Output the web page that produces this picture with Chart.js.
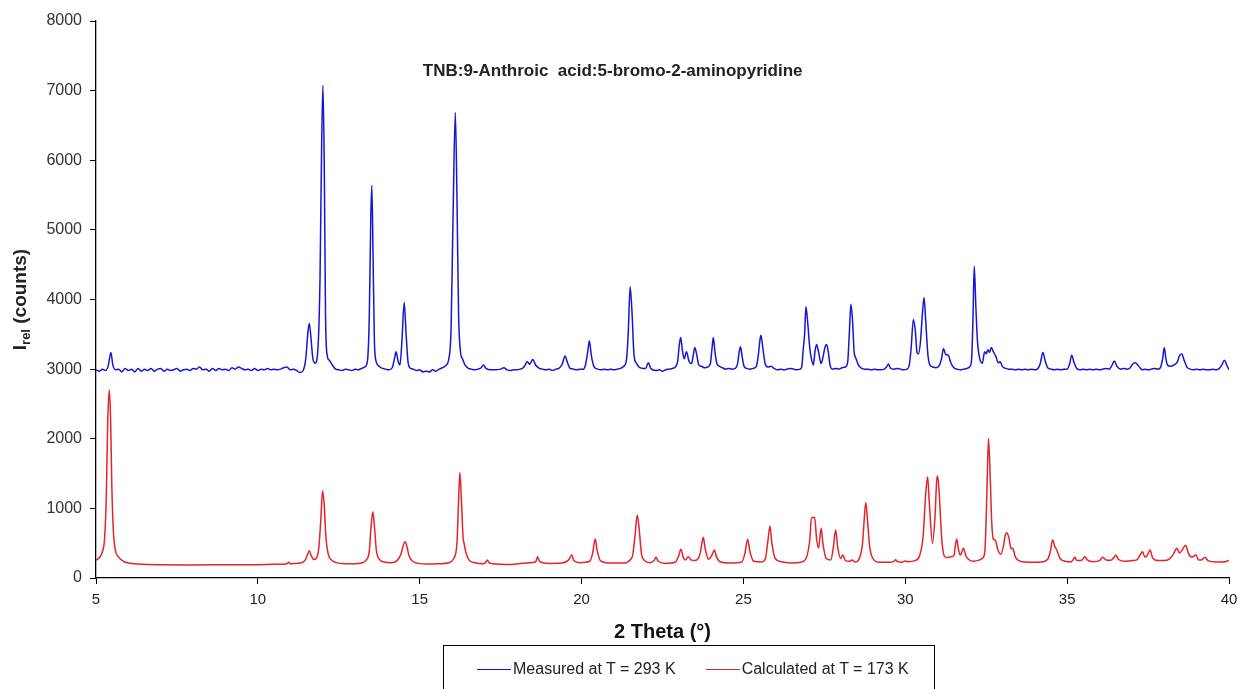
<!DOCTYPE html>
<html>
<head>
<meta charset="utf-8">
<title>TNB:9-Anthroic acid:5-bromo-2-aminopyridine</title>
<script src="https://cdn.jsdelivr.net/npm/chart.js@4.4.1/dist/chart.umd.min.js"></script>
<style>
    html, body { margin: 0; padding: 0; background: #fff; overflow: hidden; }
    #wrap { position: relative; width: 1241px; height: 689px; }
    #legend {
        position: absolute; left: 443px; top: 645px; width: 492px; height: 60px;
        border: 1px solid #000; box-sizing: border-box;
        font: 16px "Liberation Sans", Arial, sans-serif; color: #222;
        display: flex; align-items: flex-start; padding-left: 33px; padding-top: 14px;
        line-height: 18px;
    }
    .item { display: flex; align-items: center; margin-right: 30px; white-space: nowrap; }
    .item i { display: inline-block; width: 34px; height: 0; border-top: 1px solid; margin-right: 2px; }
</style>
</head>
<body>
<div id="wrap">
    <canvas id="xrd" width="1241" height="689"></canvas>
    <div id="legend"></div>
</div>
<script>
const chartTitle = 'TNB:9-Anthroic  acid:5-bromo-2-aminopyridine';
const xTitle = '2 Theta (°)';
const xTicks = [5, 10, 15, 20, 25, 30, 35, 40];
const yTicks = [0, 1000, 2000, 3000, 4000, 5000, 6000, 7000, 8000];

// measured pattern, 293 K  [2theta, counts]
const measured = [
    [5.0,2990],[5.1,2970],[5.2,3000],[5.3,2980],[5.38,3050],[5.46,3240],[5.52,3060],[5.6,2990],[5.7,3000],[5.8,2960],
    [5.9,3010],[6.0,2980],[6.1,3000],[6.2,2960],[6.3,3010],[6.4,2970],[6.5,3000],[6.6,2980],[6.7,3010],[6.8,2970],
    [6.9,3000],[7.0,3010],[7.1,2970],[7.2,3000],[7.3,2980],[7.4,2990],[7.5,3010],[7.6,2970],[7.7,2990],[7.8,3000],
    [7.9,2980],[8.0,3010],[8.1,3000],[8.2,3030],[8.3,2990],[8.4,3000],[8.5,2970],[8.6,3010],[8.7,2980],[8.8,3010],
    [8.9,2990],[9.0,3000],[9.1,2980],[9.2,3020],[9.3,3000],[9.4,3030],[9.5,3010],[9.6,2990],[9.7,3000],[9.8,2980],
    [9.9,3010],[10.0,2980],[10.1,3000],[10.2,2990],[10.3,3010],[10.4,2990],[10.5,3000],[10.6,2990],[10.7,3000],[10.8,3020],
    [10.9,3030],[11.0,2990],[11.1,3000],[11.2,2980],[11.3,2950],[11.4,2980],[11.48,3150],[11.55,3550],[11.59,3656],[11.64,3450],
    [11.7,3150],[11.77,3086],[11.85,3250],[11.92,4300],[11.97,6200],[12.01,7077],[12.05,6000],[12.09,3800],[12.14,3200],[12.2,3130],
    [12.3,3060],[12.4,3000],[12.5,2990],[12.6,2980],[12.7,3000],[12.8,2990],[12.9,2980],[13.0,3000],[13.1,2990],[13.2,3010],
    [13.3,3030],[13.38,3100],[13.44,3700],[13.49,5200],[13.52,5642],[13.56,4600],[13.6,3400],[13.66,3100],[13.75,3040],[13.85,3010],
    [13.95,3000],[14.05,2990],[14.15,3020],[14.22,3150],[14.27,3249],[14.33,3120],[14.39,3058],[14.45,3400],[14.52,3957],[14.58,3500],
    [14.64,3100],[14.72,3010],[14.8,3000],[14.9,2980],[15.0,2990],[15.1,2960],[15.2,2970],[15.3,2960],[15.4,2990],[15.5,2970],
    [15.6,3000],[15.7,3020],[15.8,3050],[15.9,3150],[15.97,3600],[16.03,5200],[16.1,6685],[16.15,5500],[16.2,3800],[16.26,3250],
    [16.32,3150],[16.4,3060],[16.5,3010],[16.6,3000],[16.7,2990],[16.8,3000],[16.9,3020],[16.97,3060],[17.05,3010],[17.2,2990],
    [17.3,2990],[17.5,3000],[17.6,3020],[17.7,2990],[17.8,2980],[17.9,2990],[18.0,2990],[18.1,3000],[18.2,3020],[18.28,3080],
    [18.32,3105],[18.4,3070],[18.49,3140],[18.58,3060],[18.7,3010],[18.8,3000],[18.9,2990],[19.0,3000],[19.1,2980],[19.2,3000],
    [19.3,3010],[19.4,3070],[19.49,3187],[19.56,3100],[19.65,3010],[19.75,3000],[19.85,2990],[19.95,3000],[20.05,3000],[20.12,3060],
    [20.19,3250],[20.24,3407],[20.3,3200],[20.38,3040],[20.5,3000],[20.6,2990],[20.7,3000],[20.8,2990],[20.9,3000],[21.0,2990],
    [21.1,3000],[21.2,3010],[21.3,3040],[21.38,3110],[21.44,3500],[21.5,4182],[21.56,3800],[21.62,3200],[21.7,3080],[21.8,3020],
    [21.9,3010],[21.98,3010],[22.06,3091],[22.14,3010],[22.3,2980],[22.4,2990],[22.5,2970],[22.6,2990],[22.7,3000],[22.8,3010],
    [22.9,3030],[22.97,3120],[23.02,3350],[23.06,3455],[23.12,3250],[23.17,3150],[23.24,3249],[23.32,3110],[23.4,3080],[23.45,3200],
    [23.5,3312],[23.56,3200],[23.62,3060],[23.7,3040],[23.8,3020],[23.9,3030],[23.98,3080],[24.03,3300],[24.07,3455],[24.12,3250],
    [24.18,3080],[24.26,3040],[24.35,3020],[24.45,3000],[24.55,3010],[24.65,3000],[24.75,3010],[24.82,3080],[24.87,3250],[24.91,3321],
    [24.96,3180],[25.02,3040],[25.1,3010],[25.2,3000],[25.3,3010],[25.4,3040],[25.46,3200],[25.51,3420],[25.54,3488],[25.6,3300],
    [25.67,3080],[25.75,3030],[25.85,3040],[25.95,3010],[26.05,2990],[26.15,3000],[26.25,2990],[26.35,3000],[26.45,3010],[26.55,3000],
    [26.65,2990],[26.75,3000],[26.8,3030],[26.85,3300],[26.89,3500],[26.93,3895],[26.98,3700],[27.05,3300],[27.1,3150],[27.16,3058],
    [27.21,3250],[27.26,3355],[27.32,3250],[27.4,3080],[27.47,3200],[27.52,3320],[27.57,3355],[27.62,3250],[27.68,3050],[27.75,3000],
    [27.85,3010],[27.95,3000],[28.05,3020],[28.15,3030],[28.22,3100],[28.27,3500],[28.32,3933],[28.37,3700],[28.42,3250],[28.48,3150],
    [28.55,3060],[28.65,3010],[28.75,3000],[28.85,3000],[28.95,2990],[29.05,3000],[29.15,2990],[29.25,2990],[29.35,3000],[29.42,3030],
    [29.48,3072],[29.55,3010],[29.65,3000],[29.75,3010],[29.85,3000],[29.95,2990],[30.05,3000],[30.12,3050],[30.18,3300],[30.25,3714],
    [30.31,3550],[30.36,3250],[30.41,3216],[30.47,3400],[30.53,3800],[30.58,4029],[30.63,3700],[30.7,3200],[30.76,3060],[30.85,3030],
    [30.95,3020],[31.05,3050],[31.12,3150],[31.18,3297],[31.25,3210],[31.33,3201],[31.4,3100],[31.5,3020],[31.6,3000],[31.7,2990],
    [31.8,3000],[31.9,3010],[32.0,3040],[32.05,3150],[32.09,3700],[32.13,4479],[32.18,3900],[32.23,3400],[32.3,3150],[32.38,3086],
    [32.45,3250],[32.5,3220],[32.55,3280],[32.6,3240],[32.66,3310],[32.72,3250],[32.8,3180],[32.87,3090],[32.93,3105],[33.0,3040],
    [33.1,3010],[33.2,3000],[33.3,3000],[33.4,2990],[33.5,3000],[33.6,2990],[33.7,3000],[33.8,2990],[33.9,3000],[34.0,2990],
    [34.1,3010],[34.17,3080],[34.25,3240],[34.32,3120],[34.4,3020],[34.5,3000],[34.6,2990],[34.7,3000],[34.8,2990],[34.9,3000],
    [35.0,3000],[35.08,3080],[35.14,3201],[35.21,3100],[35.3,3010],[35.4,2990],[35.5,3000],[35.6,2990],[35.7,3000],[35.8,2990],
    [35.9,3000],[36.0,2990],[36.1,3000],[36.2,3010],[36.3,3000],[36.38,3050],[36.46,3115],[36.54,3040],[36.65,3000],[36.75,3010],
    [36.85,3000],[36.95,3020],[37.02,3070],[37.1,3091],[37.18,3060],[37.25,3020],[37.32,2990],[37.4,3000],[37.5,2990],[37.6,3000],
    [37.7,3010],[37.8,3000],[37.88,3020],[37.95,3150],[38.0,3312],[38.05,3150],[38.1,3060],[38.2,3040],[38.3,3060],[38.4,3100],
    [38.47,3190],[38.54,3216],[38.62,3120],[38.7,3030],[38.8,3000],[38.9,2990],[39.0,3000],[39.1,2990],[39.2,3000],[39.3,2990],
    [39.4,2990],[39.5,3000],[39.6,2990],[39.7,3010],[39.78,3060],[39.86,3129],[39.93,3060],[40.0,2990]
];

// calculated pattern, 173 K  [2theta, counts]
const calculated = [
    [5.0,255],[5.1,290],[5.2,380],[5.27,600],[5.32,1200],[5.36,2200],[5.41,2699],[5.45,2300],[5.49,1300],[5.54,650],
    [5.6,400],[5.7,300],[5.85,240],[6.0,215],[6.3,200],[7.0,190],[8.0,188],[9.0,190],[10.0,192],[10.5,196],
    [10.9,205],[10.95,225],[11.0,205],[11.3,215],[11.45,250],[11.53,330],[11.59,393],[11.65,320],[11.73,265],[11.8,280],
    [11.88,420],[11.94,800],[12.0,1254],[12.05,1050],[12.1,600],[12.17,350],[12.27,260],[12.4,225],[12.7,205],[13.0,205],
    [13.2,215],[13.35,260],[13.44,380],[13.5,750],[13.55,952],[13.6,750],[13.66,400],[13.75,270],[13.9,230],[14.1,220],
    [14.3,250],[14.42,340],[14.5,480],[14.55,522],[14.6,460],[14.67,320],[14.78,240],[14.95,210],[15.3,200],[15.6,205],
    [15.9,220],[16.05,280],[16.15,500],[16.2,1100],[16.24,1517],[16.29,1100],[16.34,580],[16.37,502],[16.42,380],[16.52,260],
    [16.7,220],[16.95,205],[17.03,220],[17.09,258],[17.15,215],[17.4,200],[17.8,195],[18.0,200],[18.1,210],[18.55,225],
    [18.6,250],[18.64,306],[18.7,240],[19.0,210],[19.4,215],[19.6,260],[19.7,330],[19.76,250],[19.95,220],[20.25,240],
    [20.34,350],[20.42,560],[20.48,400],[20.58,250],[20.9,215],[21.3,215],[21.5,260],[21.58,330],[21.65,600],[21.72,904],
    [21.78,700],[21.85,350],[21.95,250],[22.1,220],[22.24,250],[22.3,297],[22.37,240],[22.6,210],[22.9,230],[23.0,320],
    [23.07,412],[23.14,300],[23.2,260],[23.3,306],[23.38,260],[23.5,250],[23.65,330],[23.72,500],[23.76,584],[23.82,420],
    [23.92,270],[24.02,320],[24.1,402],[24.17,300],[24.3,230],[24.6,215],[24.95,230],[25.05,360],[25.13,555],[25.2,380],
    [25.32,240],[25.55,230],[25.68,280],[25.76,550],[25.82,746],[25.88,500],[25.98,280],[26.2,230],[26.5,215],[26.8,230],
    [26.95,300],[27.05,550],[27.1,860],[27.2,871],[27.26,560],[27.32,430],[27.4,713],[27.46,480],[27.56,280],[27.7,260],
    [27.78,450],[27.85,689],[27.91,450],[28.0,280],[28.07,330],[28.15,250],[28.28,240],[28.36,260],[28.45,230],[28.58,280],
    [28.68,500],[28.74,900],[28.78,1081],[28.83,850],[28.9,450],[29.0,280],[29.2,225],[29.5,225],[29.65,240],[29.7,262],
    [29.76,235],[29.9,228],[30.0,245],[30.07,235],[30.3,250],[30.45,330],[30.55,600],[30.63,1200],[30.69,1455],[30.74,1100],
    [30.84,498],[30.92,900],[30.97,1400],[31.0,1464],[31.05,1200],[31.12,600],[31.2,320],[31.3,290],[31.36,300],[31.5,320],
    [31.55,480],[31.59,555],[31.64,420],[31.7,330],[31.8,426],[31.87,320],[31.95,270],[32.1,240],[32.3,260],[32.4,290],
    [32.46,400],[32.52,1200],[32.57,2005],[32.62,1500],[32.67,800],[32.72,560],[32.78,545],[32.85,420],[32.95,340],[33.03,450],
    [33.09,620],[33.13,651],[33.2,580],[33.27,420],[33.32,426],[33.4,300],[33.55,240],[33.9,225],[34.2,230],[34.4,270],
    [34.48,380],[34.55,545],[34.62,450],[34.68,402],[34.78,280],[34.95,240],[35.1,230],[35.18,260],[35.24,297],[35.3,250],
    [35.42,250],[35.5,280],[35.55,306],[35.62,260],[35.8,235],[36.0,250],[36.1,297],[36.2,260],[36.35,255],[36.45,300],
    [36.51,325],[36.58,270],[36.8,240],[37.0,250],[37.15,260],[37.25,330],[37.33,378],[37.4,300],[37.47,320],[37.56,402],
    [37.64,290],[37.8,250],[38.0,250],[38.15,270],[38.28,340],[38.39,426],[38.47,360],[38.55,400],[38.66,469],[38.75,350],
    [38.85,300],[38.98,330],[39.06,260],[39.15,260],[39.26,297],[39.35,250],[39.6,230],[39.8,230],[40.0,250]
];

const seriesLabels = ['Measured at T = 293 K', 'Calculated at T = 173 K'];
const seriesColors = ['#1616d2', '#e4232b'];

const toPoints = rows => rows.map(r => ({ x: r[0], y: r[1] }));
const font = '"Liberation Sans", Arial, sans-serif';

// title inside the plot + y title with subscript
const annotate = {
    id: 'annotate',
    afterDraw(chart) {
        const { ctx, chartArea } = chart;
        ctx.save();
        ctx.fillStyle = '#222';
        ctx.textBaseline = 'middle';

        ctx.font = 'bold 17px ' + font;
        ctx.textAlign = 'center';
        ctx.fillText(chartTitle, chartArea.left + chartArea.width * 0.456, chartArea.top + 50);

        const mid = (chartArea.top + chartArea.bottom) / 2;
        ctx.translate(21, mid);
        ctx.rotate(-Math.PI / 2);
        ctx.textAlign = 'left';
        const big = 'bold 19px ' + font, small = 'bold 13px ' + font;
        ctx.font = big;
        const wI = ctx.measureText('I').width;
        const wRest = ctx.measureText(' (counts)').width;
        ctx.font = small;
        const wSub = ctx.measureText('rel').width;
        let x0 = -(wI + wSub + wRest) / 2;
        ctx.font = big;
        ctx.fillText('I', x0, 0);
        ctx.font = small;
        ctx.fillText('rel', x0 + wI, 5);
        ctx.font = big;
        ctx.fillText(' (counts)', x0 + wI + wSub, 0);
        ctx.restore();
    }
};

const chart = new Chart(document.getElementById('xrd'), {
    type: 'line',
    data: {
        datasets: [
            { label: seriesLabels[0], data: toPoints(measured), borderColor: seriesColors[0] },
            { label: seriesLabels[1], data: toPoints(calculated), borderColor: seriesColors[1] }
        ]
    },
    options: {
        responsive: false,
        animation: false,
        layout: { padding: { top: 21, right: 12, bottom: 45, left: 0 } },
        elements: {
            point: { radius: 0 },
            line: { borderWidth: 1.5, cubicInterpolationMode: 'monotone', fill: false }
        },
        scales: {
            x: {
                type: 'linear',
                min: 5,
                max: 40,
                afterBuildTicks: s => { s.ticks = xTicks.map(v => ({ value: v })); },
                afterFit: s => { s.height = 66; s.paddingLeft = 0; s.paddingRight = 0; },
                ticks: { font: { size: 15, family: font }, color: '#222', padding: 7, maxRotation: 0 },
                grid: { drawOnChartArea: false, color: '#000', tickLength: 6 },
                border: { color: '#000', width: 1.3 },
                title: {
                    display: true,
                    text: xTitle,
                    color: '#111',
                    font: { size: 20, weight: 'bold', family: font },
                    padding: 0
                }
            },
            y: {
                min: 0,
                max: 8000,
                afterBuildTicks: s => { s.ticks = yTicks.map(v => ({ value: v })); },
                afterFit: s => { s.width = 96; },
                ticks: {
                    font: { size: 16, family: font },
                    color: '#333',
                    padding: 8,
                    callback: v => String(v)
                },
                grid: { drawOnChartArea: false, color: '#000', tickLength: 6 },
                border: { color: '#000', width: 1.3 }
            }
        },
        plugins: {
            legend: { display: false },
            tooltip: { enabled: false }
        }
    },
    plugins: [annotate]
});

// boxed legend below the axis title
const legendBox = document.getElementById('legend');
chart.data.datasets.forEach(ds => {
    const item = document.createElement('span');
    item.className = 'item';
    const line = document.createElement('i');
    line.style.borderColor = ds.borderColor;
    item.appendChild(line);
    item.appendChild(document.createTextNode(ds.label));
    legendBox.appendChild(item);
});
</script>
</body>
</html>
